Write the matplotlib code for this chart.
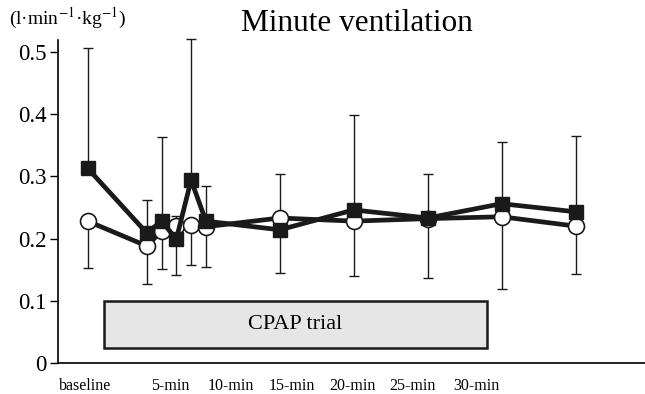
import numpy as np
import matplotlib
matplotlib.use("Agg")
import matplotlib.pyplot as plt
from matplotlib.patches import Rectangle

plt.rcParams['font.family'] = ['Liberation Serif', 'DejaVu Serif']
plt.rcParams['mathtext.fontset'] = 'stix'

# time in minutes (baseline drawn at -3)
t = [-3, 1, 2, 3, 4, 5, 10, 15, 20, 25, 30]

# filled squares, error bar up
sq = [0.313, 0.209, 0.228, 0.199, 0.294, 0.228, 0.214, 0.246, 0.233, 0.256, 0.243]
sq_top = [0.507, 0.262, 0.363, 0.236, 0.521, 0.285, 0.304, 0.399, 0.304, 0.355, 0.365]

# open circles, error bar down
ci = [0.228, 0.188, 0.212, 0.220, 0.222, 0.219, 0.233, 0.228, 0.232, 0.235, 0.220]
ci_low = [0.153, 0.127, 0.151, 0.141, 0.158, 0.155, 0.145, 0.140, 0.137, 0.119, 0.143]

tick_pos = [-3.2, 2.6, 6.7, 10.8, 14.9, 19.0, 23.3]
tick_labels = ['baseline', '5-min', '10-min', '15-min', '20-min', '25-min', '30-min']

fig = plt.figure(figsize=(6.45, 3.94), dpi=100)
ax = fig.add_axes([0.09, 0.079, 0.91, 0.819])

sq = np.array(sq)
ci = np.array(ci)
up = np.array(sq_top) - sq
dn = ci - np.array(ci_low)

eb1 = ax.errorbar(t, sq, yerr=[np.zeros_like(up), up], fmt='none', ecolor='#1a1a1a',
                  elinewidth=1.0, capsize=3.5, capthick=1.0, zorder=2)
eb2 = ax.errorbar(t, ci, yerr=[dn, np.zeros_like(dn)], fmt='none', ecolor='#1a1a1a',
                  elinewidth=1.0, capsize=3.5, capthick=1.0, zorder=2)
for eb in (eb1, eb2):
    for art in eb.lines[1] + eb.lines[2]:
        art.set_clip_on(False)

ax.plot(t, ci, '-o', color='#1a1a1a', lw=3.4, markersize=11.5,
        markerfacecolor='white', markeredgecolor='#1a1a1a', markeredgewidth=1.2, zorder=3)
ax.plot(t, sq, '-s', color='#1a1a1a', lw=3.4, markersize=10,
        markerfacecolor='#1a1a1a', zorder=4)

box = Rectangle((-1.9, 0.024), 25.9, 0.076, facecolor='#e6e6e6',
                edgecolor='#1a1a1a', lw=1.8, zorder=1)
ax.add_patch(box)
ax.text(11.05, 0.062, 'CPAP trial', ha='center', va='center', fontsize=16)

ax.set_xlim(-5, 34.7)
ax.set_ylim(0, 0.519)
ax.set_yticks([0, 0.1, 0.2, 0.3, 0.4, 0.5])
ax.set_yticklabels(['0', '0.1', '0.2', '0.3', '0.4', '0.5'], fontsize=16.5)
ax.set_xticks(tick_pos)
ax.set_xticklabels(tick_labels, fontsize=11.5)
ax.tick_params(axis='x', length=0, pad=11)
ax.tick_params(axis='y', length=6, width=1, direction='out', pad=2)

ax.spines['top'].set_visible(False)
ax.spines['right'].set_visible(False)
ax.spines['left'].set_linewidth(1.2)
ax.spines['bottom'].set_linewidth(1.2)

fig.text(0.553, 0.94, 'Minute ventilation', ha='center', va='center', fontsize=22.5)
fig.text(0.014, 0.953, r'(l·min$^{-1}$·kg$^{-1}$)', ha='left', va='center', fontsize=14)

fig.savefig('out.png', dpi=100)
